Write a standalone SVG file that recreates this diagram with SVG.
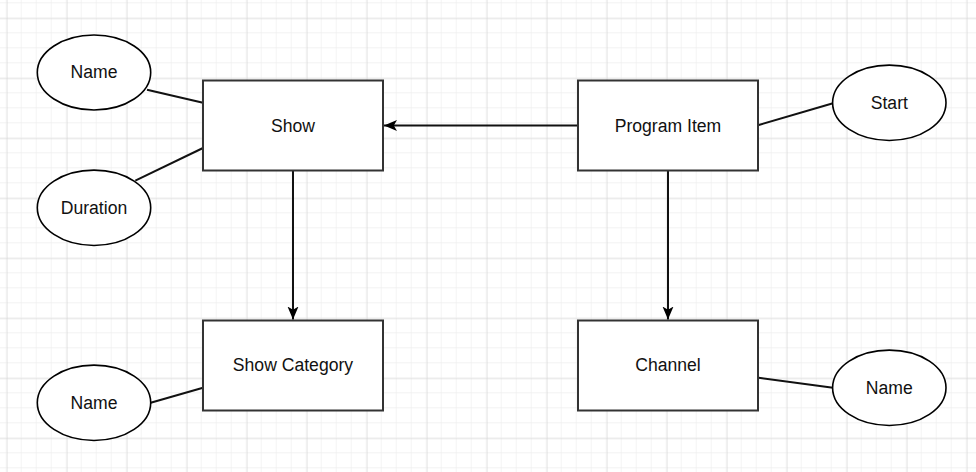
<svg xmlns="http://www.w3.org/2000/svg" width="976" height="472" viewBox="0 0 976 472">
  <defs>
    <pattern id="minor" width="15" height="15" patternUnits="userSpaceOnUse" x="6.7" y="18.3">
      <path d="M15 0V15M0 15H15" fill="none" stroke="#eeeeee" stroke-width="1.3"/>
    </pattern>
    <pattern id="major" width="60" height="60" patternUnits="userSpaceOnUse" x="6.7" y="18.3">
      <path d="M0 0V60M0 0H60" fill="none" stroke="#d2d2d2" stroke-width="1"/>
    </pattern>
    <marker id="arrow" viewBox="0 0 14 12" refX="13" refY="6" markerWidth="14" markerHeight="12" markerUnits="userSpaceOnUse" orient="auto">
      <path d="M13 6L0 0.5L3.2 6L0 11.5Z" fill="#000"/>
    </marker>
    <style>
      .ent { fill: #fff; stroke: #333; stroke-width: 2; }
      .attr { fill: #fff; stroke: #000; stroke-width: 1.6; }
      .lbl { font-family: "Liberation Sans", Arial, sans-serif; font-size: 17.6px; fill: #111; text-anchor: middle; }
      .edge { fill: none; stroke: #111; stroke-width: 2; }
    </style>
  </defs>
  <rect width="976" height="472" fill="#fff"/>
  <rect width="976" height="472" fill="url(#minor)"/>
  <rect width="976" height="472" fill="url(#major)"/>

  <g id="connectors">
    <line class="edge" x1="147" y1="89.7" x2="203" y2="102.7"/>
    <line class="edge" x1="135.3" y1="180.7" x2="203" y2="148"/>
    <line class="edge" x1="578" y1="125.5" x2="384" y2="125.5" marker-end="url(#arrow)"/>
    <line class="edge" x1="293" y1="170.5" x2="293" y2="319.5" marker-end="url(#arrow)"/>
    <line class="edge" x1="668" y1="170.5" x2="668" y2="319.5" marker-end="url(#arrow)"/>
    <line class="edge" x1="758.7" y1="125" x2="833" y2="103.3"/>
    <line class="edge" x1="150.7" y1="402.7" x2="203" y2="387.7"/>
    <line class="edge" x1="758.7" y1="377.7" x2="833" y2="387.7"/>
  </g>

  <g id="show">
    <rect class="ent" x="203" y="80.5" width="180" height="90"/>
    <text class="lbl" x="293" y="131.5">Show</text>
  </g>
  <g id="program-item">
    <rect class="ent" x="578" y="80.5" width="180" height="90"/>
    <text class="lbl" x="668" y="131.5">Program Item</text>
  </g>
  <g id="show-category">
    <rect class="ent" x="203" y="320.5" width="180" height="90"/>
    <text class="lbl" x="293" y="371">Show Category</text>
  </g>
  <g id="channel">
    <rect class="ent" x="578" y="320.5" width="180" height="90"/>
    <text class="lbl" x="668" y="371">Channel</text>
  </g>

  <g id="show-name">
    <ellipse class="attr" cx="94" cy="72.5" rx="56.7" ry="37.5"/>
    <text class="lbl" x="94" y="78.3">Name</text>
  </g>
  <g id="show-duration">
    <ellipse class="attr" cx="94" cy="207.8" rx="56.7" ry="37.7"/>
    <text class="lbl" x="94" y="213.6">Duration</text>
  </g>
  <g id="program-start">
    <ellipse class="attr" cx="889.3" cy="102.8" rx="56.7" ry="37.7"/>
    <text class="lbl" x="889.3" y="108.6">Start</text>
  </g>
  <g id="category-name">
    <ellipse class="attr" cx="94" cy="402.8" rx="56.7" ry="37.7"/>
    <text class="lbl" x="94" y="408.6">Name</text>
  </g>
  <g id="channel-name">
    <ellipse class="attr" cx="889.3" cy="387.8" rx="56.7" ry="37.7"/>
    <text class="lbl" x="889.3" y="393.6">Name</text>
  </g>
</svg>
